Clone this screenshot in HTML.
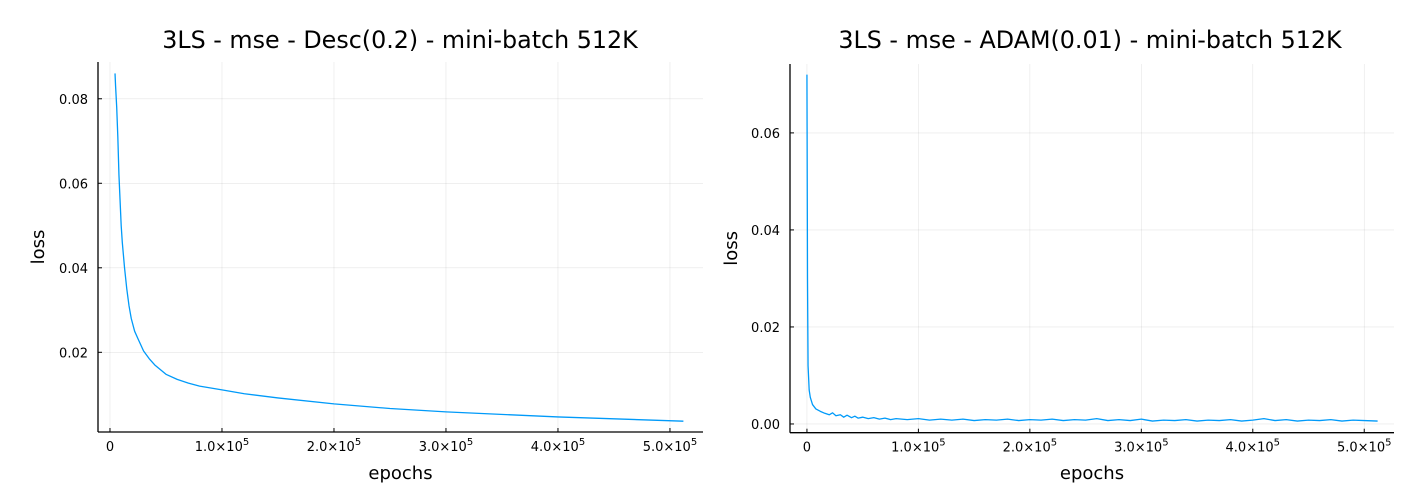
<!DOCTYPE html>
<html><head><meta charset="utf-8"><style>
body{margin:0;background:#fff;}
svg{display:block;font-family:"DejaVu Sans","Liberation Sans",sans-serif;}
</style></head><body>
<svg id="svg" width="1414" height="498"></svg>
<script>
// Left chart data
const leftEpochs=[4500,5000,6000,7000,8000,9000,10000,11000,13000,15000,17000,19000,22000,25000,30000,35000,40000,50000,60000,70000,80000,100000,120000,150000,200000,250000,300000,400000,512000];
const leftLoss=[0.086,0.083,0.078,0.071,0.062,0.056,0.05,0.046,0.04,0.035,0.031,0.028,0.025,0.0232,0.0203,0.0185,0.017,0.0148,0.0136,0.0127,0.012,0.0111,0.0102,0.0092,0.0078,0.0067,0.0059,0.0047,0.0037];
// Right chart data
const rightEpochs=[0,500,1000,2000,3000,5000,8000,12000,16000,20000,23000,26000,30000,33000,36000,40000,43000,46000,50000,55000,60000,65000,70000,75000,80000,90000,100000,110000,120000,130000,140000,150000,160000,170000,180000,190000,200000,210000,220000,230000,240000,250000,260000,270000,280000,290000,300000,310000,320000,330000,340000,350000,360000,370000,380000,390000,400000,410000,420000,430000,440000,450000,460000,470000,480000,490000,500000,512000];
const rightLoss=[0.072,0.03,0.012,0.007,0.0055,0.004,0.0031,0.0026,0.0022,0.0019,0.0023,0.0017,0.0019,0.0014,0.0018,0.0013,0.0016,0.0012,0.0014,0.0011,0.0013,0.001,0.0012,0.0009,0.0011,0.0009,0.0011,0.0008,0.001,0.0008,0.001,0.0007,0.0009,0.0008,0.001,0.0007,0.0009,0.0008,0.0010,0.0007,0.0009,0.0008,0.0011,0.0007,0.0009,0.0007,0.0010,0.0006,0.0008,0.0007,0.0009,0.0006,0.0008,0.0007,0.0009,0.0006,0.0008,0.0011,0.0007,0.0009,0.0006,0.0008,0.0007,0.0009,0.0006,0.0008,0.0007,0.0006];
const xTicks=[0,100000,200000,300000,400000,500000];
const xTickLabels=["0","1.0","2.0","3.0","4.0","5.0"];
const leftYTicks=[0.02,0.04,0.06,0.08];
const leftYLabels=["0.02","0.04","0.06","0.08"];
const rightYTicks=[0,0.02,0.04,0.06];
const rightYLabels=["0.00","0.02","0.04","0.06"];

const NS="http://www.w3.org/2000/svg";
const svg=document.getElementById('svg');
function mk(tag,attrs,parent,text){const e=document.createElementNS(NS,tag);for(const k in attrs)e.setAttribute(k,attrs[k]);if(text!==undefined)e.textContent=text;(parent||svg).appendChild(e);return e;}

function chart(cfg,prefix){
  const g=mk('g',{});
  
  
  const xs=v=>cfg.x0+(v-cfg.xmin)/(cfg.xmax-cfg.xmin)*(cfg.x1-cfg.x0);
  const ys=v=>cfg.y1-(v-cfg.ymin)/(cfg.ymax-cfg.ymin)*(cfg.y1-cfg.y0);
  xTicks.forEach(t=>{const l=mk('line',{x1:xs(t),x2:xs(t),y1:cfg.y0,y2:cfg.y1,stroke:'#000','stroke-opacity':0.1,'stroke-width':0.6},g);
    });
  cfg.yt.forEach(t=>{const l=mk('line',{x1:cfg.x0,x2:cfg.x1,y1:ys(t),y2:ys(t),stroke:'#000','stroke-opacity':0.1,'stroke-width':0.6},g);
    });
  const ax=mk('line',{x1:cfg.x0,x2:cfg.x1,y1:cfg.y1,y2:cfg.y1,stroke:'#000','stroke-width':1.3},g);
  
  const ay=mk('line',{x1:cfg.x0,x2:cfg.x0,y1:cfg.y0,y2:cfg.y1,stroke:'#000','stroke-width':1.3},g);
  
  xTicks.forEach((t,i)=>{
    mk('line',{x1:xs(t),x2:xs(t),y1:cfg.y1,y2:cfg.y1-4,stroke:'#000','stroke-width':1},g);
    const tx=mk('text',{x:xs(t),y:cfg.y1+19,'font-size':13,'text-anchor':'middle'},g);
    
    if(i===0){tx.textContent=xTickLabels[i];}
    else{tx.textContent=xTickLabels[i]+'×10';mk('tspan',{dy:-6,'font-size':10},tx,'5');}
  });
  cfg.yt.forEach((t,i)=>{
    mk('line',{x1:cfg.x0,x2:cfg.x0+4,y1:ys(t),y2:ys(t),stroke:'#000','stroke-width':1},g);
    const tx=mk('text',{x:cfg.x0-10,y:ys(t)+5,'font-size':13,'text-anchor':'end'},g,cfg.yl[i]);
    
  });
  let d='';cfg.ex.forEach((e,i)=>{d+=(i?'L':'M')+xs(e).toFixed(2)+','+ys(cfg.ly[i]).toFixed(2);});
  const p=mk('path',{d:d,fill:'none',stroke:'#009af9','stroke-width':1.3,'stroke-linejoin':'round'},g);
  
  const t=mk('text',{x:cfg.tx,y:48,'font-size':23.8,'text-anchor':'middle'},g,cfg.title);
  
  const xl=mk('text',{x:(cfg.x0+cfg.x1)/2,y:479,'font-size':18,'text-anchor':'middle'},g,'epochs');
  
  const yc=(cfg.y0+cfg.y1)/2;
  const yl=mk('text',{x:cfg.ylx,y:yc,'font-size':18,'text-anchor':'middle',transform:`rotate(-90 ${cfg.ylx} ${yc})`},g,'loss');
  
}
chart({x0:98,x1:703,y0:62,y1:432,xmin:-10700,xmax:529500,ymin:0.00114,ymax:0.0887,yt:leftYTicks,yl:leftYLabels,ex:leftEpochs,ly:leftLoss,title:'3LS - mse - Desc(0.2) - mini-batch 512K',tx:400,ylx:44},'left');
chart({x0:790,x1:1394,y0:64,y1:432.7,xmin:-15200,xmax:526700,ymin:-0.0018,ymax:0.0742,yt:rightYTicks,yl:rightYLabels,ex:rightEpochs,ly:rightLoss,title:'3LS - mse - ADAM(0.01) - mini-batch 512K',tx:1090,ylx:737},'right');
</script>
</body></html>
